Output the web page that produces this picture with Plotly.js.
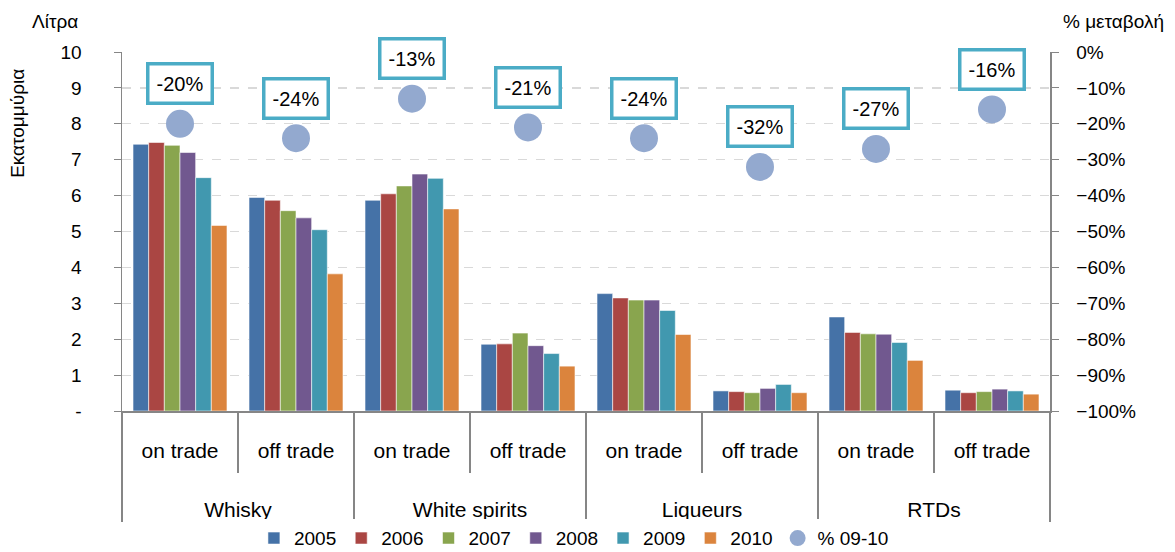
<!DOCTYPE html>
<html><head><meta charset="utf-8">
<script src="https://cdn.plot.ly/plotly-3.0.1.min.js"></script>
<style>body{margin:0;background:#fff}#c{width:1175px;height:552px}</style>
</head><body><div id="c"></div>
<script>
const categories = ["Whisky","Whisky","White spirits","White spirits","Liqueurs","Liqueurs","RTDs","RTDs"];
const channels = ["on trade","off trade","on trade","off trade","on trade","off trade","on trade","off trade"];
const years = ["2005","2006","2007","2008","2009","2010"];
const v2005 = [7.43,5.95,5.87,1.86,3.27,0.56,2.62,0.58];
const v2006 = [7.48,5.87,6.05,1.87,3.15,0.54,2.19,0.51];
const v2007 = [7.40,5.58,6.27,2.17,3.09,0.51,2.15,0.54];
const v2008 = [7.20,5.38,6.60,1.82,3.09,0.63,2.14,0.61];
const v2009 = [6.50,5.05,6.48,1.60,2.80,0.74,1.91,0.56];
const v2010 = [5.17,3.82,5.63,1.25,2.13,0.51,1.41,0.47];
const change0910 = [-20,-24,-13,-21,-24,-32,-27,-16];
const yTickVals = [0,1,2,3,4,5,6,7,8,9,10];
const yTickText = ["-","1","2","3","4","5","6","7","8","9","10"];

const seriesVals = [v2005,v2006,v2007,v2008,v2009,v2010];
const colors = ["#4572A7","#AA4643","#89A54E","#71588F","#4198AF","#DB843D"];
const FONT = "Liberation Sans, Arial, sans-serif";
const xcat = [categories.map(c=>"<br><br>"+c), channels];

const traces = seriesVals.map((vals,i)=>({
  type:"bar", name:years[i], x:xcat, y:vals,
  marker:{color:colors[i], line:{color:"rgba(255,255,255,0.8)", width:0.7}}
}));
traces.push({
  type:"scatter", mode:"markers", name:"% 09-10", x:xcat,
  y:change0910.map(v=>v/100), yaxis:"y2",
  marker:{color:"#93A9CF", size:28}
});

const annotations = change0910.map((v,i)=>({
  x:i, y:v/100, xref:"x", yref:"y2", yshift:40, showarrow:false,
  text:v+"%", font:{family:FONT,size:20,color:"#000"},
  bgcolor:"#fff", bordercolor:"#4BACC6", borderwidth:3.5, borderpad:7
}));
annotations.push({xref:"paper",yref:"paper",x:-0.072,y:1.05,xanchor:"center",yanchor:"bottom",
  text:"Λίτρα",showarrow:false,font:{family:FONT,size:19,color:"#000"}});
annotations.push({xref:"paper",yref:"paper",x:1.068,y:1.05,xanchor:"center",yanchor:"bottom",
  text:"% μεταβολή",showarrow:false,font:{family:FONT,size:19,color:"#000"}});
annotations.push({xref:"paper",yref:"paper",x:-0.112,y:0.80,xanchor:"center",yanchor:"middle",
  text:"Εκατομμύρια",textangle:-90,showarrow:false,font:{family:FONT,size:19,color:"#000"}});

const layout = {
  width:1175, height:552,
  margin:{l:122,r:125,t:52,b:141, autoexpand:false},
  paper_bgcolor:"#fff", plot_bgcolor:"#fff",
  font:{family:FONT,size:19,color:"#000"},
  barmode:"group", bargap:0.19, bargroupgap:0,
  showlegend:true,
  legend:{orientation:"h", x:0.487, xanchor:"center", yref:"container", y:0.025, yanchor:"middle",
    font:{family:FONT,size:19,color:"#000"}, itemwidth:30, tracegroupgap:0},
  xaxis:{type:"multicategory", range:[-0.5,7.5], autorange:false, automargin:false,
    showline:true, linecolor:"#868686", linewidth:1.5,
    ticks:"outside", tickcolor:"#868686", ticklen:60, tickwidth:1.5, ticklabelstandoff:20,
    showdividers:true, dividercolor:"#868686", dividerwidth:1.5,
    tickfont:{family:FONT,size:21,color:"#000"}, showgrid:false, zeroline:false},
  yaxis:{range:[0,10], automargin:false, tickvals:yTickVals, ticktext:yTickText, showline:true,
    linecolor:"#868686", linewidth:1.5, ticks:"outside", ticklen:7, tickcolor:"#868686",
    ticklabelstandoff:28, showgrid:true, gridcolor:"#D9D9D9", griddash:"dash", gridwidth:1.2,
    zeroline:false, tickfont:{family:FONT,size:19,color:"#000"}},
  yaxis2:{range:[-1,0], automargin:false, overlaying:"y", side:"right", dtick:0.1, tickformat:".0%",
    showline:true, linecolor:"#868686", linewidth:1.5, ticks:"outside", ticklen:7,
    tickcolor:"#868686", ticklabelstandoff:14, showgrid:false, zeroline:false,
    tickfont:{family:FONT,size:19,color:"#000"}},
  annotations:annotations
};
Plotly.newPlot("c", traces, layout, {displayModeBar:false, staticPlot:true});
</script></body></html>
